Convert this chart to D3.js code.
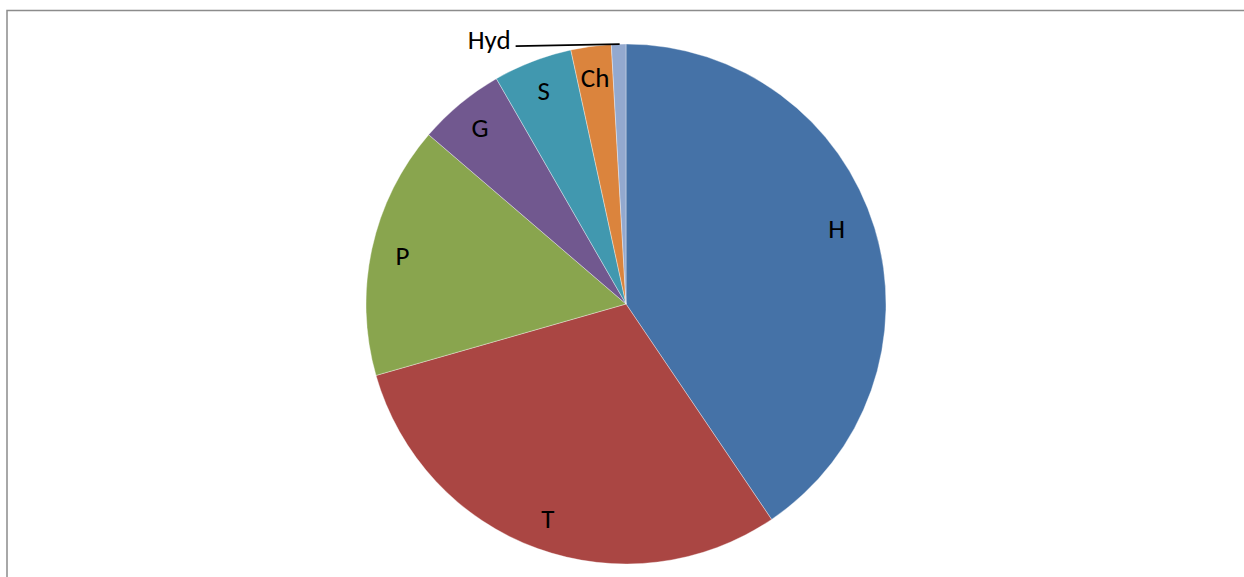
<!DOCTYPE html>
<html>
<head>
<meta charset="utf-8">
<script src="https://cdnjs.cloudflare.com/ajax/libs/d3/7.8.5/d3.min.js"></script>
<style>
  html, body { margin: 0; padding: 0; background: #fff; }
  svg { display: block; }
</style>
</head>
<body>
<div id="chart"></div>
<script>
// pie data (share of the whole, %)
const categories = ["H", "T", "P", "G", "S", "Ch", "Hyd"];
const values = [40.5, 30.0, 15.7, 5.4, 4.9, 2.5, 0.9];
const colors = ["#4572A7", "#AA4643", "#89A54E", "#71588F", "#4198AF", "#DB843D", "#93A9CF"];

const w = 1244, h = 577;
const cx = 626, cy = 304, R = 260;

const svg = d3.select("#chart").append("svg")
  .attr("width", w)
  .attr("height", h);

// chart area border (only top and left are visible in the frame)
svg.append("rect")
  .attr("x", 7)
  .attr("y", 10.5)
  .attr("width", w + 20)
  .attr("height", h + 20)
  .style("fill", "none")
  .style("stroke", "#8c8c8c")
  .style("stroke-width", 1.5);

const data = categories.map((c, i) => ({ name: c, value: values[i], color: colors[i] }));

const pie = d3.pie()
  .sort(null)
  .value(d => d.value);

const arcs = pie(data);

const arc = d3.arc()
  .innerRadius(0)
  .outerRadius(R);

const labelArc = d3.arc()
  .innerRadius(R * 0.88)
  .outerRadius(R * 0.88);

const g = svg.append("g")
  .attr("transform", "translate(" + cx + "," + cy + ")");

g.selectAll("path.slice")
  .data(arcs)
  .enter().append("path")
  .attr("class", "slice")
  .attr("d", arc)
  .style("fill", d => d.data.color)
  .style("stroke", "#fff")
  .style("stroke-width", 0.6)
  .style("stroke-opacity", 0.6);

const font = "Carlito, Calibri, Lato, 'Open Sans', sans-serif";
const fontSize = "27px";

// labels inside the slices (all but the tiny last one)
g.selectAll("text.inlabel")
  .data(arcs.filter(d => d.data.name !== "Hyd"))
  .enter().append("text")
  .attr("class", "inlabel")
  .attr("transform", d => {
    const c = labelArc.centroid(d);
    // the big first slice sits its label a bit higher up
    if (d.index === 0) { c[0] -= 8; c[1] -= 8; }
    return "translate(" + c + ")";
  })
  .attr("text-anchor", "middle")
  .attr("dy", "0.35em")
  .style("font-family", font)
  .style("font-size", fontSize)
  .style("fill", "#000")
  .text(d => d.data.name);

// the small slice gets a leader line and an outside label
const small = arcs.find(d => d.data.name === "Hyd");
const mid = (small.startAngle + small.endAngle) / 2;
const px = R * Math.sin(mid) + 1, py = -R * Math.cos(mid);
const lx = px - 104, ly = py + 2;

g.append("line")
  .attr("x1", px).attr("y1", py)
  .attr("x2", lx).attr("y2", ly)
  .style("stroke", "#000")
  .style("stroke-width", 1.6);

g.append("text")
  .attr("x", lx - 5)
  .attr("y", ly - 7)
  .attr("text-anchor", "end")
  .attr("dy", "0.35em")
  .style("font-family", font)
  .style("font-size", fontSize)
  .style("fill", "#000")
  .text(small.data.name);
</script>
</body>
</html>
